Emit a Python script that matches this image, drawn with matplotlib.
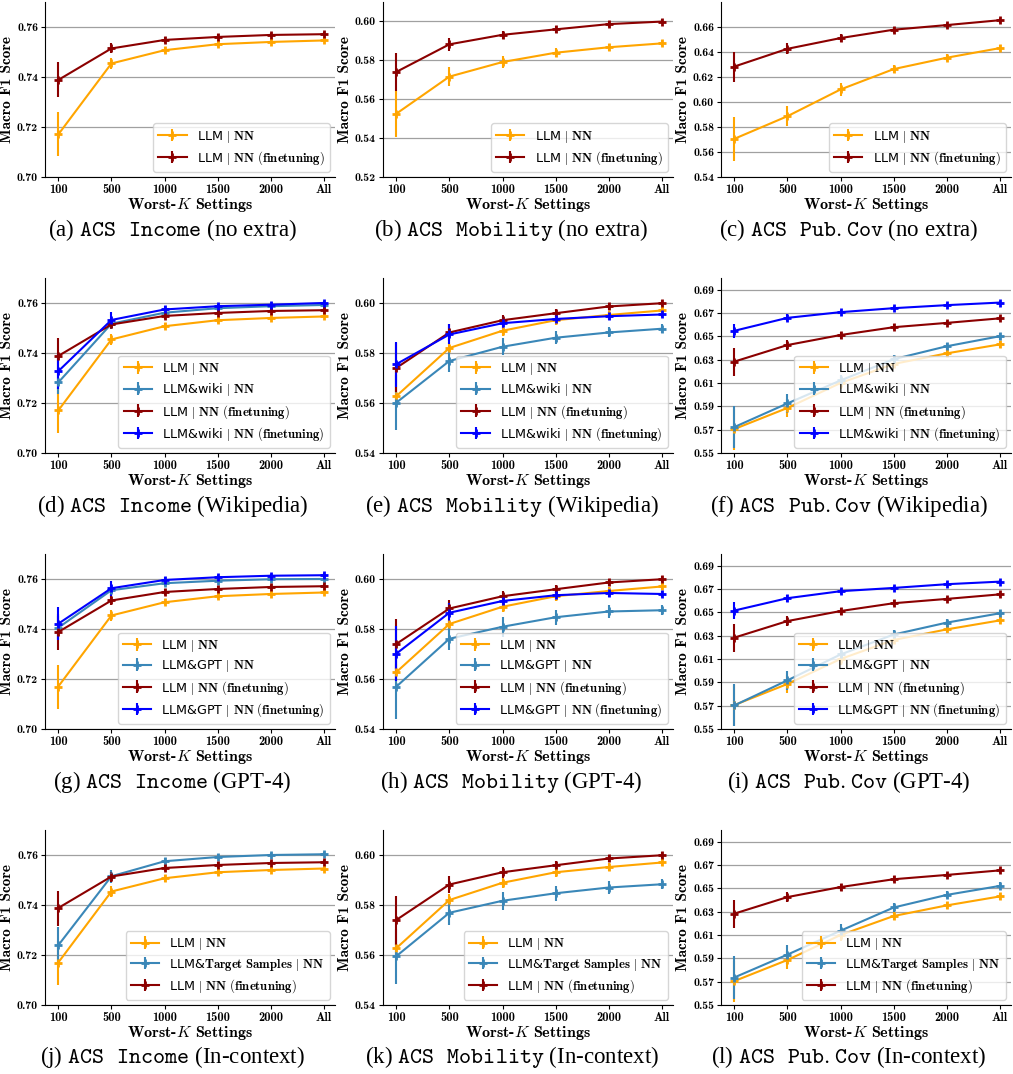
import matplotlib
matplotlib.use('Agg')
import matplotlib.pyplot as plt

plt.rcParams['mathtext.fontset'] = 'cm'
plt.rcParams['axes.unicode_minus'] = False

# ---- data ----
k_labels = ['100', '500', '1000', '1500', '2000', 'All']

income_llm = [0.7170, 0.7454, 0.7507, 0.7531, 0.7540, 0.7546]
income_llm_err = [0.0088, 0.0022, 0.0013, 0.0010, 0.0008, 0.0008]
income_ft = [0.7388, 0.7514, 0.7548, 0.7560, 0.7568, 0.7571]
income_ft_err = [0.0070, 0.0020, 0.0013, 0.0010, 0.0008, 0.0008]
income_wiki = [0.7282, 0.7517, 0.7561, 0.7579, 0.7587, 0.7592]
income_wiki_err = [0.0045, 0.0020, 0.0012, 0.0010, 0.0008, 0.0008]
income_wiki_ft = [0.7327, 0.7532, 0.7574, 0.7587, 0.7593, 0.7600]
income_wiki_ft_err = [0.0070, 0.0030, 0.0013, 0.0010, 0.0008, 0.0008]
income_gpt = [0.7405, 0.7555, 0.7583, 0.7593, 0.7599, 0.7600]
income_gpt_err = [0.0045, 0.0020, 0.0012, 0.0010, 0.0008, 0.0008]
income_gpt_ft = [0.7421, 0.7563, 0.7596, 0.7607, 0.7613, 0.7615]
income_gpt_ft_err = [0.0066, 0.0030, 0.0013, 0.0010, 0.0008, 0.0008]
income_tgt = [0.7239, 0.7515, 0.7575, 0.7592, 0.7600, 0.7603]
income_tgt_err = [0.0075, 0.0025, 0.0012, 0.0010, 0.0008, 0.0008]

mobility_llm_noextra = [0.5525, 0.5716, 0.5791, 0.5839, 0.5867, 0.5887]
mobility_llm_noextra_err = [0.0118, 0.0050, 0.0030, 0.0024, 0.0019, 0.0015]
mobility_llm = [0.5627, 0.5820, 0.5889, 0.5931, 0.5952, 0.5970]
mobility_llm_err = [0.0035, 0.0025, 0.0020, 0.0018, 0.0015, 0.0013]
mobility_ft = [0.5740, 0.5882, 0.5931, 0.5959, 0.5986, 0.5999]
mobility_ft_err = [0.0098, 0.0035, 0.0022, 0.0017, 0.0015, 0.0012]
mobility_wiki = [0.5601, 0.5768, 0.5825, 0.5861, 0.5882, 0.5897]
mobility_wiki_err = [0.0110, 0.0045, 0.0033, 0.0025, 0.0020, 0.0018]
mobility_wiki_ft = [0.5755, 0.5874, 0.5919, 0.5936, 0.5947, 0.5954]
mobility_wiki_ft_err = [0.0090, 0.0040, 0.0025, 0.0018, 0.0015, 0.0012]
mobility_gpt = [0.5569, 0.5761, 0.5809, 0.5847, 0.5870, 0.5875]
mobility_gpt_err = [0.0130, 0.0045, 0.0040, 0.0030, 0.0025, 0.0020]
mobility_gpt_ft = [0.5701, 0.5865, 0.5912, 0.5935, 0.5944, 0.5940]
mobility_gpt_ft_err = [0.0110, 0.0040, 0.0025, 0.0018, 0.0015, 0.0012]
mobility_tgt = [0.5595, 0.5769, 0.5817, 0.5847, 0.5870, 0.5883]
mobility_tgt_err = [0.0110, 0.0050, 0.0035, 0.0030, 0.0025, 0.0020]

pubcov_llm = [0.5705, 0.5886, 0.6100, 0.6263, 0.6354, 0.6431]
pubcov_llm_err = [0.0176, 0.0080, 0.0053, 0.0035, 0.0030, 0.0027]
pubcov_ft = [0.6283, 0.6425, 0.6511, 0.6578, 0.6615, 0.6654]
pubcov_ft_err = [0.0120, 0.0043, 0.0030, 0.0024, 0.0020, 0.0020]
pubcov_wiki = [0.5722, 0.5925, 0.6122, 0.6304, 0.6415, 0.6501]
pubcov_wiki_err = [0.0180, 0.0080, 0.0050, 0.0040, 0.0030, 0.0030]
pubcov_wiki_ft = [0.6547, 0.6658, 0.6707, 0.6741, 0.6767, 0.6789]
pubcov_wiki_ft_err = [0.0060, 0.0030, 0.0020, 0.0018, 0.0015, 0.0015]
pubcov_gpt = [0.5702, 0.5917, 0.6139, 0.6310, 0.6412, 0.6492]
pubcov_gpt_err = [0.0180, 0.0080, 0.0050, 0.0040, 0.0030, 0.0030]
pubcov_gpt_ft = [0.6515, 0.6621, 0.6681, 0.6709, 0.6741, 0.6763]
pubcov_gpt_ft_err = [0.0070, 0.0030, 0.0020, 0.0018, 0.0015, 0.0015]
pubcov_tgt = [0.5736, 0.5932, 0.6137, 0.6336, 0.6444, 0.6521]
pubcov_tgt_err = [0.0180, 0.0080, 0.0060, 0.0040, 0.0030, 0.0030]

# ---- styles / labels ----
C_LLM = '#FFA500'
C_EXTRA = '#3A87B8'
C_FT = '#8B0000'
C_EXTRA_FT = '#0000FF'

LBL_LLM = r'LLM $|$ $\mathbf{NN}$'
LBL_FT = r'LLM $|$ $\mathbf{NN\ (finetuning)}$'
LBL_WIKI = r'LLM&wiki $|$ $\mathbf{NN}$'
LBL_WIKI_FT = r'LLM&wiki $|$ $\mathbf{NN\ (finetuning)}$'
LBL_GPT = r'LLM&GPT $|$ $\mathbf{NN}$'
LBL_GPT_FT = r'LLM&GPT $|$ $\mathbf{NN\ (finetuning)}$'
LBL_TGT = r'LLM&$\mathbf{Target\ Samples}$ $|$ $\mathbf{NN}$'

income_ticks = [0.70, 0.72, 0.74, 0.76]
mobility_ticks_a = [0.52, 0.54, 0.56, 0.58, 0.60]
mobility_ticks = [0.54, 0.56, 0.58, 0.60]
pubcov_ticks_a = [0.54, 0.56, 0.58, 0.60, 0.62, 0.64, 0.66]
pubcov_ticks = [0.55, 0.57, 0.59, 0.61, 0.63, 0.65, 0.67, 0.69]

fig = plt.figure(figsize=(10.13, 10.74), dpi=100)

col_left = [0.0444, 0.378, 0.7117]
col_cap = [0.170, 0.505, 0.838]
row_bottom = [0.8352, 0.5782, 0.3212, 0.0642]
ax_w, ax_h = 0.286, 0.163
cap_y = [0.786, 0.529, 0.272, 0.016]


def panel(r, c, series, ylim, yticks, caption):
    ax = fig.add_axes([col_left[c], row_bottom[r], ax_w, ax_h])
    x = list(range(len(k_labels)))
    for vals, err, color, label in series:
        ax.errorbar(x, vals, yerr=err, color=color, label=label, lw=1.5,
                    elinewidth=1.5, marker='+', ms=6, mew=2, capsize=0)
    ax.set_ylim(*ylim)
    ax.set_yticks(yticks)
    ax.set_yticklabels(['%.2f' % t for t in yticks], family='cmb10', fontsize=8.5)
    ax.set_xticks(x)
    ax.set_xticklabels(k_labels, family='cmb10', fontsize=9)
    ax.set_xlim(-0.25, 5.2)
    ax.yaxis.grid(True, color='#a0a0a0', lw=0.9)
    ax.set_axisbelow(True)
    for s in ('top', 'right'):
        ax.spines[s].set_visible(False)
    ax.tick_params(length=3, pad=2)
    ax.set_ylabel('Macro F1 Score', family='cmb10', fontsize=11, labelpad=2)
    ax.set_xlabel(r'Worst-$K$ Settings', family='cmb10', fontsize=11.5, labelpad=0)
    ax.legend(loc='lower right', fontsize=9.2, borderaxespad=0.4,
              handlelength=2.2, labelspacing=0.35, edgecolor='#cccccc')
    fig.text(col_cap[c], cap_y[r], caption, ha='center', va='center',
             family='Liberation Serif', fontsize=16.5)
    return ax


ylim_inc = (0.70, 0.77)
ylim_mob = (0.54, 0.61)
ylim_pub = (0.55, 0.70)

# row 1 - no extra
panel(0, 0, [(income_llm, income_llm_err, C_LLM, LBL_LLM),
             (income_ft, income_ft_err, C_FT, LBL_FT)],
      ylim_inc, income_ticks, r'(a) $\mathtt{ACS\ \ Income}$ (no extra)')
panel(0, 1, [(mobility_llm_noextra, mobility_llm_noextra_err, C_LLM, LBL_LLM),
             (mobility_ft, mobility_ft_err, C_FT, LBL_FT)],
      (0.52, 0.61), mobility_ticks_a, r'(b) $\mathtt{ACS\ \ Mobility}$ (no extra)')
panel(0, 2, [(pubcov_llm, pubcov_llm_err, C_LLM, LBL_LLM),
             (pubcov_ft, pubcov_ft_err, C_FT, LBL_FT)],
      (0.54, 0.68), pubcov_ticks_a, r'(c) $\mathtt{ACS\ \ Pub.Cov}$ (no extra)')

# row 2 - wikipedia
panel(1, 0, [(income_llm, income_llm_err, C_LLM, LBL_LLM),
             (income_wiki, income_wiki_err, C_EXTRA, LBL_WIKI),
             (income_ft, income_ft_err, C_FT, LBL_FT),
             (income_wiki_ft, income_wiki_ft_err, C_EXTRA_FT, LBL_WIKI_FT)],
      ylim_inc, income_ticks, r'(d) $\mathtt{ACS\ \ Income}$ (Wikipedia)')
panel(1, 1, [(mobility_llm, mobility_llm_err, C_LLM, LBL_LLM),
             (mobility_wiki, mobility_wiki_err, C_EXTRA, LBL_WIKI),
             (mobility_ft, mobility_ft_err, C_FT, LBL_FT),
             (mobility_wiki_ft, mobility_wiki_ft_err, C_EXTRA_FT, LBL_WIKI_FT)],
      ylim_mob, mobility_ticks, r'(e) $\mathtt{ACS\ \ Mobility}$ (Wikipedia)')
panel(1, 2, [(pubcov_llm, pubcov_llm_err, C_LLM, LBL_LLM),
             (pubcov_wiki, pubcov_wiki_err, C_EXTRA, LBL_WIKI),
             (pubcov_ft, pubcov_ft_err, C_FT, LBL_FT),
             (pubcov_wiki_ft, pubcov_wiki_ft_err, C_EXTRA_FT, LBL_WIKI_FT)],
      ylim_pub, pubcov_ticks, r'(f) $\mathtt{ACS\ \ Pub.Cov}$ (Wikipedia)')

# row 3 - GPT-4
panel(2, 0, [(income_llm, income_llm_err, C_LLM, LBL_LLM),
             (income_gpt, income_gpt_err, C_EXTRA, LBL_GPT),
             (income_ft, income_ft_err, C_FT, LBL_FT),
             (income_gpt_ft, income_gpt_ft_err, C_EXTRA_FT, LBL_GPT_FT)],
      ylim_inc, income_ticks, r'(g) $\mathtt{ACS\ \ Income}$ (GPT-4)')
panel(2, 1, [(mobility_llm, mobility_llm_err, C_LLM, LBL_LLM),
             (mobility_gpt, mobility_gpt_err, C_EXTRA, LBL_GPT),
             (mobility_ft, mobility_ft_err, C_FT, LBL_FT),
             (mobility_gpt_ft, mobility_gpt_ft_err, C_EXTRA_FT, LBL_GPT_FT)],
      ylim_mob, mobility_ticks, r'(h) $\mathtt{ACS\ \ Mobility}$ (GPT-4)')
panel(2, 2, [(pubcov_llm, pubcov_llm_err, C_LLM, LBL_LLM),
             (pubcov_gpt, pubcov_gpt_err, C_EXTRA, LBL_GPT),
             (pubcov_ft, pubcov_ft_err, C_FT, LBL_FT),
             (pubcov_gpt_ft, pubcov_gpt_ft_err, C_EXTRA_FT, LBL_GPT_FT)],
      ylim_pub, pubcov_ticks, r'(i) $\mathtt{ACS\ \ Pub.Cov}$ (GPT-4)')

# row 4 - in-context
panel(3, 0, [(income_llm, income_llm_err, C_LLM, LBL_LLM),
             (income_tgt, income_tgt_err, C_EXTRA, LBL_TGT),
             (income_ft, income_ft_err, C_FT, LBL_FT)],
      ylim_inc, income_ticks, r'(j) $\mathtt{ACS\ \ Income}$ (In-context)')
panel(3, 1, [(mobility_llm, mobility_llm_err, C_LLM, LBL_LLM),
             (mobility_tgt, mobility_tgt_err, C_EXTRA, LBL_TGT),
             (mobility_ft, mobility_ft_err, C_FT, LBL_FT)],
      ylim_mob, mobility_ticks, r'(k) $\mathtt{ACS\ \ Mobility}$ (In-context)')
panel(3, 2, [(pubcov_llm, pubcov_llm_err, C_LLM, LBL_LLM),
             (pubcov_tgt, pubcov_tgt_err, C_EXTRA, LBL_TGT),
             (pubcov_ft, pubcov_ft_err, C_FT, LBL_FT)],
      ylim_pub, pubcov_ticks, r'(l) $\mathtt{ACS\ \ Pub.Cov}$ (In-context)')

fig.savefig('out.png', dpi=100, facecolor='white')
